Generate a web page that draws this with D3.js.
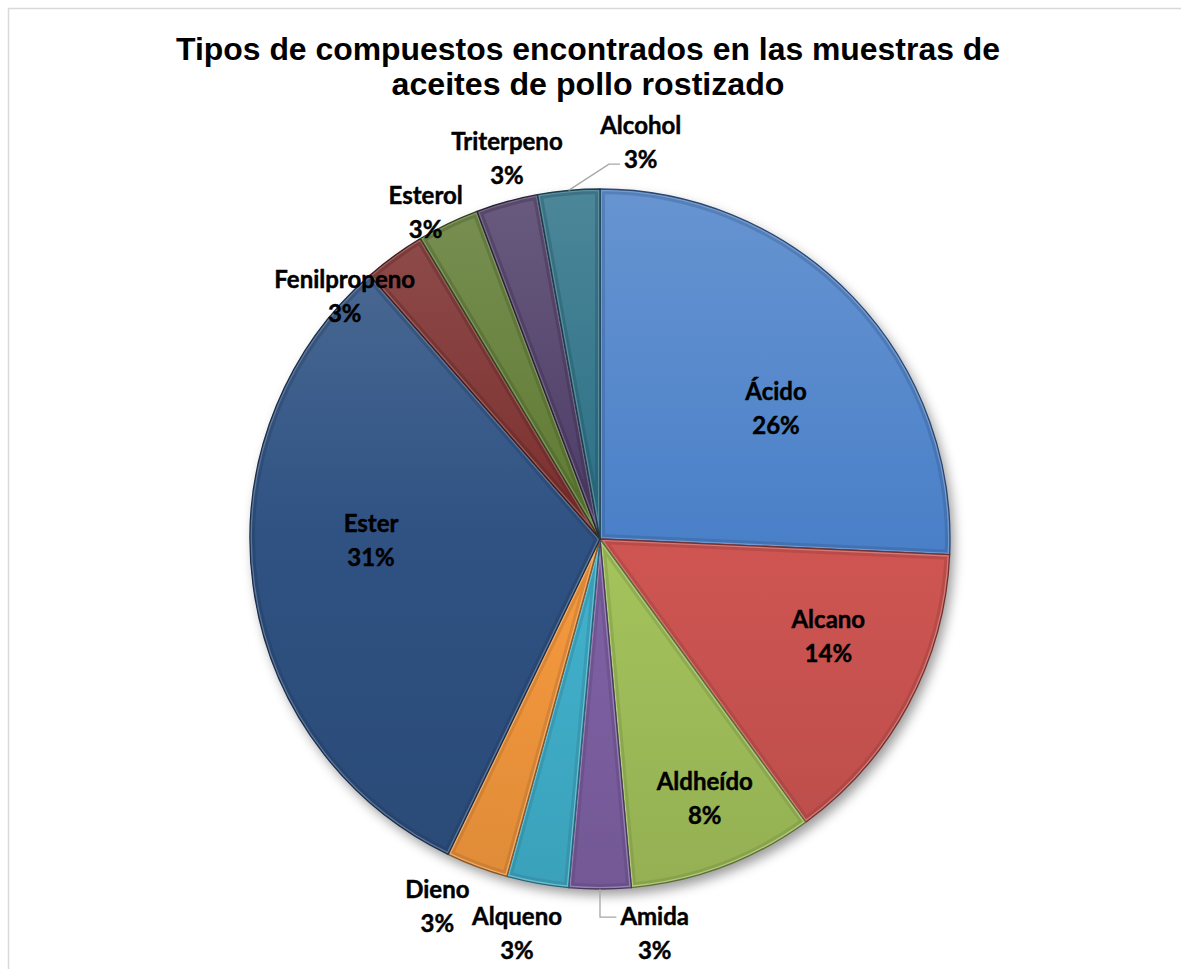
<!DOCTYPE html>
<html>
<head>
<meta charset="utf-8">
<style>
  body { margin: 0; background: #fff; }
  svg text { font-family: Lato, 'Open Sans', sans-serif; }
  .title { font-family: 'Liberation Sans', Arial, sans-serif !important; font-weight: bold; font-size: 31px; fill: #000; text-anchor: middle; }
  .lbl { font-weight: bold; font-size: 24px; fill: #000; stroke: #000; stroke-width: 0.45; text-anchor: middle; }
  .leader { fill: none; stroke: #a6a6a6; stroke-width: 1.3; }
</style>
</head>
<body>
<div id="chart"></div>
<script src="https://cdn.jsdelivr.net/npm/d3@7"></script>
<script>
  // data (number of compounds per type)
  var categories = ["Ácido", "Alcano", "Aldheído", "Amida", "Alqueno", "Dieno",
                    "Ester", "Fenilpropeno", "Esterol", "Triterpeno", "Alcohol"];
  var counts = [9, 5, 3, 1, 1, 1, 11, 1, 1, 1, 1];
  var percentLabels = ["26%", "14%", "8%", "3%", "3%", "3%", "31%", "3%", "3%", "3%", "3%"];
  var sliceColors = ["#4a80c8", "#cf5552", "#a4c45c", "#8062a6", "#42b3cf", "#f89a3e",
                     "#2f5283", "#7b2e2c", "#5e7a31", "#4c3b66", "#2a6f85"];
  var titleLines = ["Tipos de compuestos encontrados en las muestras de",
                    "aceites de pollo rostizado"];

  var width = 1181, height = 969;
  var cx = 600, cy = 539, R = 350;

  // where Excel's "best fit" put each label: angle shift from slice middle (deg), distance from centre
  var labelLayout = {
    "Ácido":        { da: 7.2,   r: 219 },
    "Alcano":       { da: -5.3,  r: 248 },
    "Aldheído":     { da: -1.4,  r: 280 },
    "Amida":        { da: -7.9,  r: 398, leader: "upper" },
    "Alqueno":      { da: 1.6,   r: 403 },
    "Dieno":        { da: 3.3,   r: 402 },
    "Ester":        { da: 7.4,   r: 229 },
    "Fenilpropeno": { da: -10.5, r: 352 },
    "Esterol":      { da: -2.4,  r: 370 },
    "Triterpeno":   { da: 1.7,   r: 392 },
    "Alcohol":      { da: 11,    r: 399, leader: "lower" }
  };

  var svg = d3.select("#chart").append("svg")
    .attr("width", width)
    .attr("height", height);

  svg.append("rect")
    .attr("x", 8.5).attr("y", 8.5)
    .attr("width", 1220).attr("height", 1000)
    .attr("fill", "#fff")
    .attr("stroke", "#d9d9d9")
    .attr("stroke-width", 1.5);

  var defs = svg.append("defs");

  var shadow = defs.append("filter").attr("id", "shadow")
    .attr("x", "-20%").attr("y", "-20%").attr("width", "140%").attr("height", "140%");
  shadow.append("feGaussianBlur").attr("stdDeviation", 6);

  // title, squeezed like Excel does
  var titleWidths = [824, 393];
  svg.selectAll(".title")
    .data(titleLines)
    .enter().append("text")
      .attr("class", "title")
      .attr("x", 588)
      .attr("y", function(d, i) { return 60 + i * 35; })
      .attr("textLength", function(d, i) { return titleWidths[i]; })
      .attr("lengthAdjust", "spacingAndGlyphs")
      .text(function(d) { return d; });

  var data = categories.map(function(c, i) {
    return { name: c, count: counts[i], pct: percentLabels[i], color: sliceColors[i] };
  });

  var pie = d3.pie().sort(null).value(function(d) { return d.count; });
  var arcs = pie(data);
  var arc = d3.arc().innerRadius(0).outerRadius(R);

  var g = svg.append("g").attr("transform", "translate(" + cx + "," + cy + ")");

  g.append("circle")
    .attr("cx", 4).attr("cy", 6).attr("r", R)
    .attr("fill", "rgba(0,0,0,0.4)")
    .attr("filter", "url(#shadow)");

  arcs.forEach(function(d, i) {
    var base = d.data.color;
    var grad = defs.append("linearGradient")
      .attr("id", "grad" + i)
      .attr("gradientUnits", "userSpaceOnUse")
      .attr("x1", 0).attr("y1", -R).attr("x2", 0).attr("y2", R);
    grad.append("stop").attr("offset", "0%").attr("stop-color", d3.interpolateRgb(base, "#fff")(0.16));
    grad.append("stop").attr("offset", "50%").attr("stop-color", base);
    grad.append("stop").attr("offset", "100%").attr("stop-color", d3.interpolateRgb(base, "#000")(0.1));

    defs.append("clipPath").attr("id", "clip" + i)
      .append("path").attr("d", arc(d));
  });

  var slices = g.selectAll(".slice")
    .data(arcs)
    .enter().append("g")
      .attr("class", "slice");

  slices.append("path")
    .attr("d", arc)
    .attr("fill", function(d, i) { return "url(#grad" + i + ")"; });

  // bevel: soft dark band, light rim, dark outline
  slices.append("path")
    .attr("d", arc)
    .attr("clip-path", function(d, i) { return "url(#clip" + i + ")"; })
    .attr("fill", "none")
    .attr("stroke", function(d) { return d3.color(d.data.color).darker(1.2); })
    .attr("stroke-opacity", 0.3)
    .attr("stroke-width", 10);
  slices.append("path")
    .attr("d", arc)
    .attr("clip-path", function(d, i) { return "url(#clip" + i + ")"; })
    .attr("fill", "none")
    .attr("stroke", function(d) { return d3.interpolateRgb(d.data.color, "#fff")(0.3); })
    .attr("stroke-opacity", 0.75)
    .attr("stroke-width", 4);
  slices.append("path")
    .attr("d", arc)
    .attr("fill", "none")
    .attr("stroke", function(d) { return d3.color(d.data.color).darker(1.6); })
    .attr("stroke-width", 1.3)
    .attr("stroke-linejoin", "round");

  function polar(angle, r) {
    return [Math.sin(angle) * r, -Math.cos(angle) * r];
  }

  var labels = g.selectAll(".lbl")
    .data(arcs)
    .enter().append("text")
      .attr("class", "lbl")
      .each(function(d) {
        var lay = labelLayout[d.data.name];
        var mid = (d.startAngle + d.endAngle) / 2;
        var p = polar(mid + lay.da * Math.PI / 180, lay.r);
        d.lx = p[0]; d.ly = p[1];
        var t = d3.select(this);
        t.append("tspan").attr("x", p[0]).attr("y", p[1] - 8.3).text(d.data.name);
        t.append("tspan").attr("x", p[0]).attr("y", p[1] + 25.7).text(d.data.pct);
      });

  // leader lines for labels pushed off their slice
  labels.each(function(d) {
    var lay = labelLayout[d.data.name];
    if (!lay.leader) return;
    var mid = (d.startAngle + d.endAngle) / 2;
    var start = polar(mid, R);
    var spans = this.querySelectorAll("tspan");
    var pts;
    if (lay.leader === "upper") {
      var w = spans[0].getComputedTextLength();
      var y = d.ly - 16;
      pts = [start, [start[0], y], [d.lx - w / 2 - 4, y]];
    } else {
      var w2 = spans[1].getComputedTextLength();
      var y2 = d.ly + 22;
      var endX = d.lx - w2 / 2 - 4;
      pts = [start, [endX - 11, y2], [endX, y2]];
    }
    g.append("path")
      .attr("class", "leader")
      .attr("d", d3.line()(pts));
  });
</script>
</body>
</html>
